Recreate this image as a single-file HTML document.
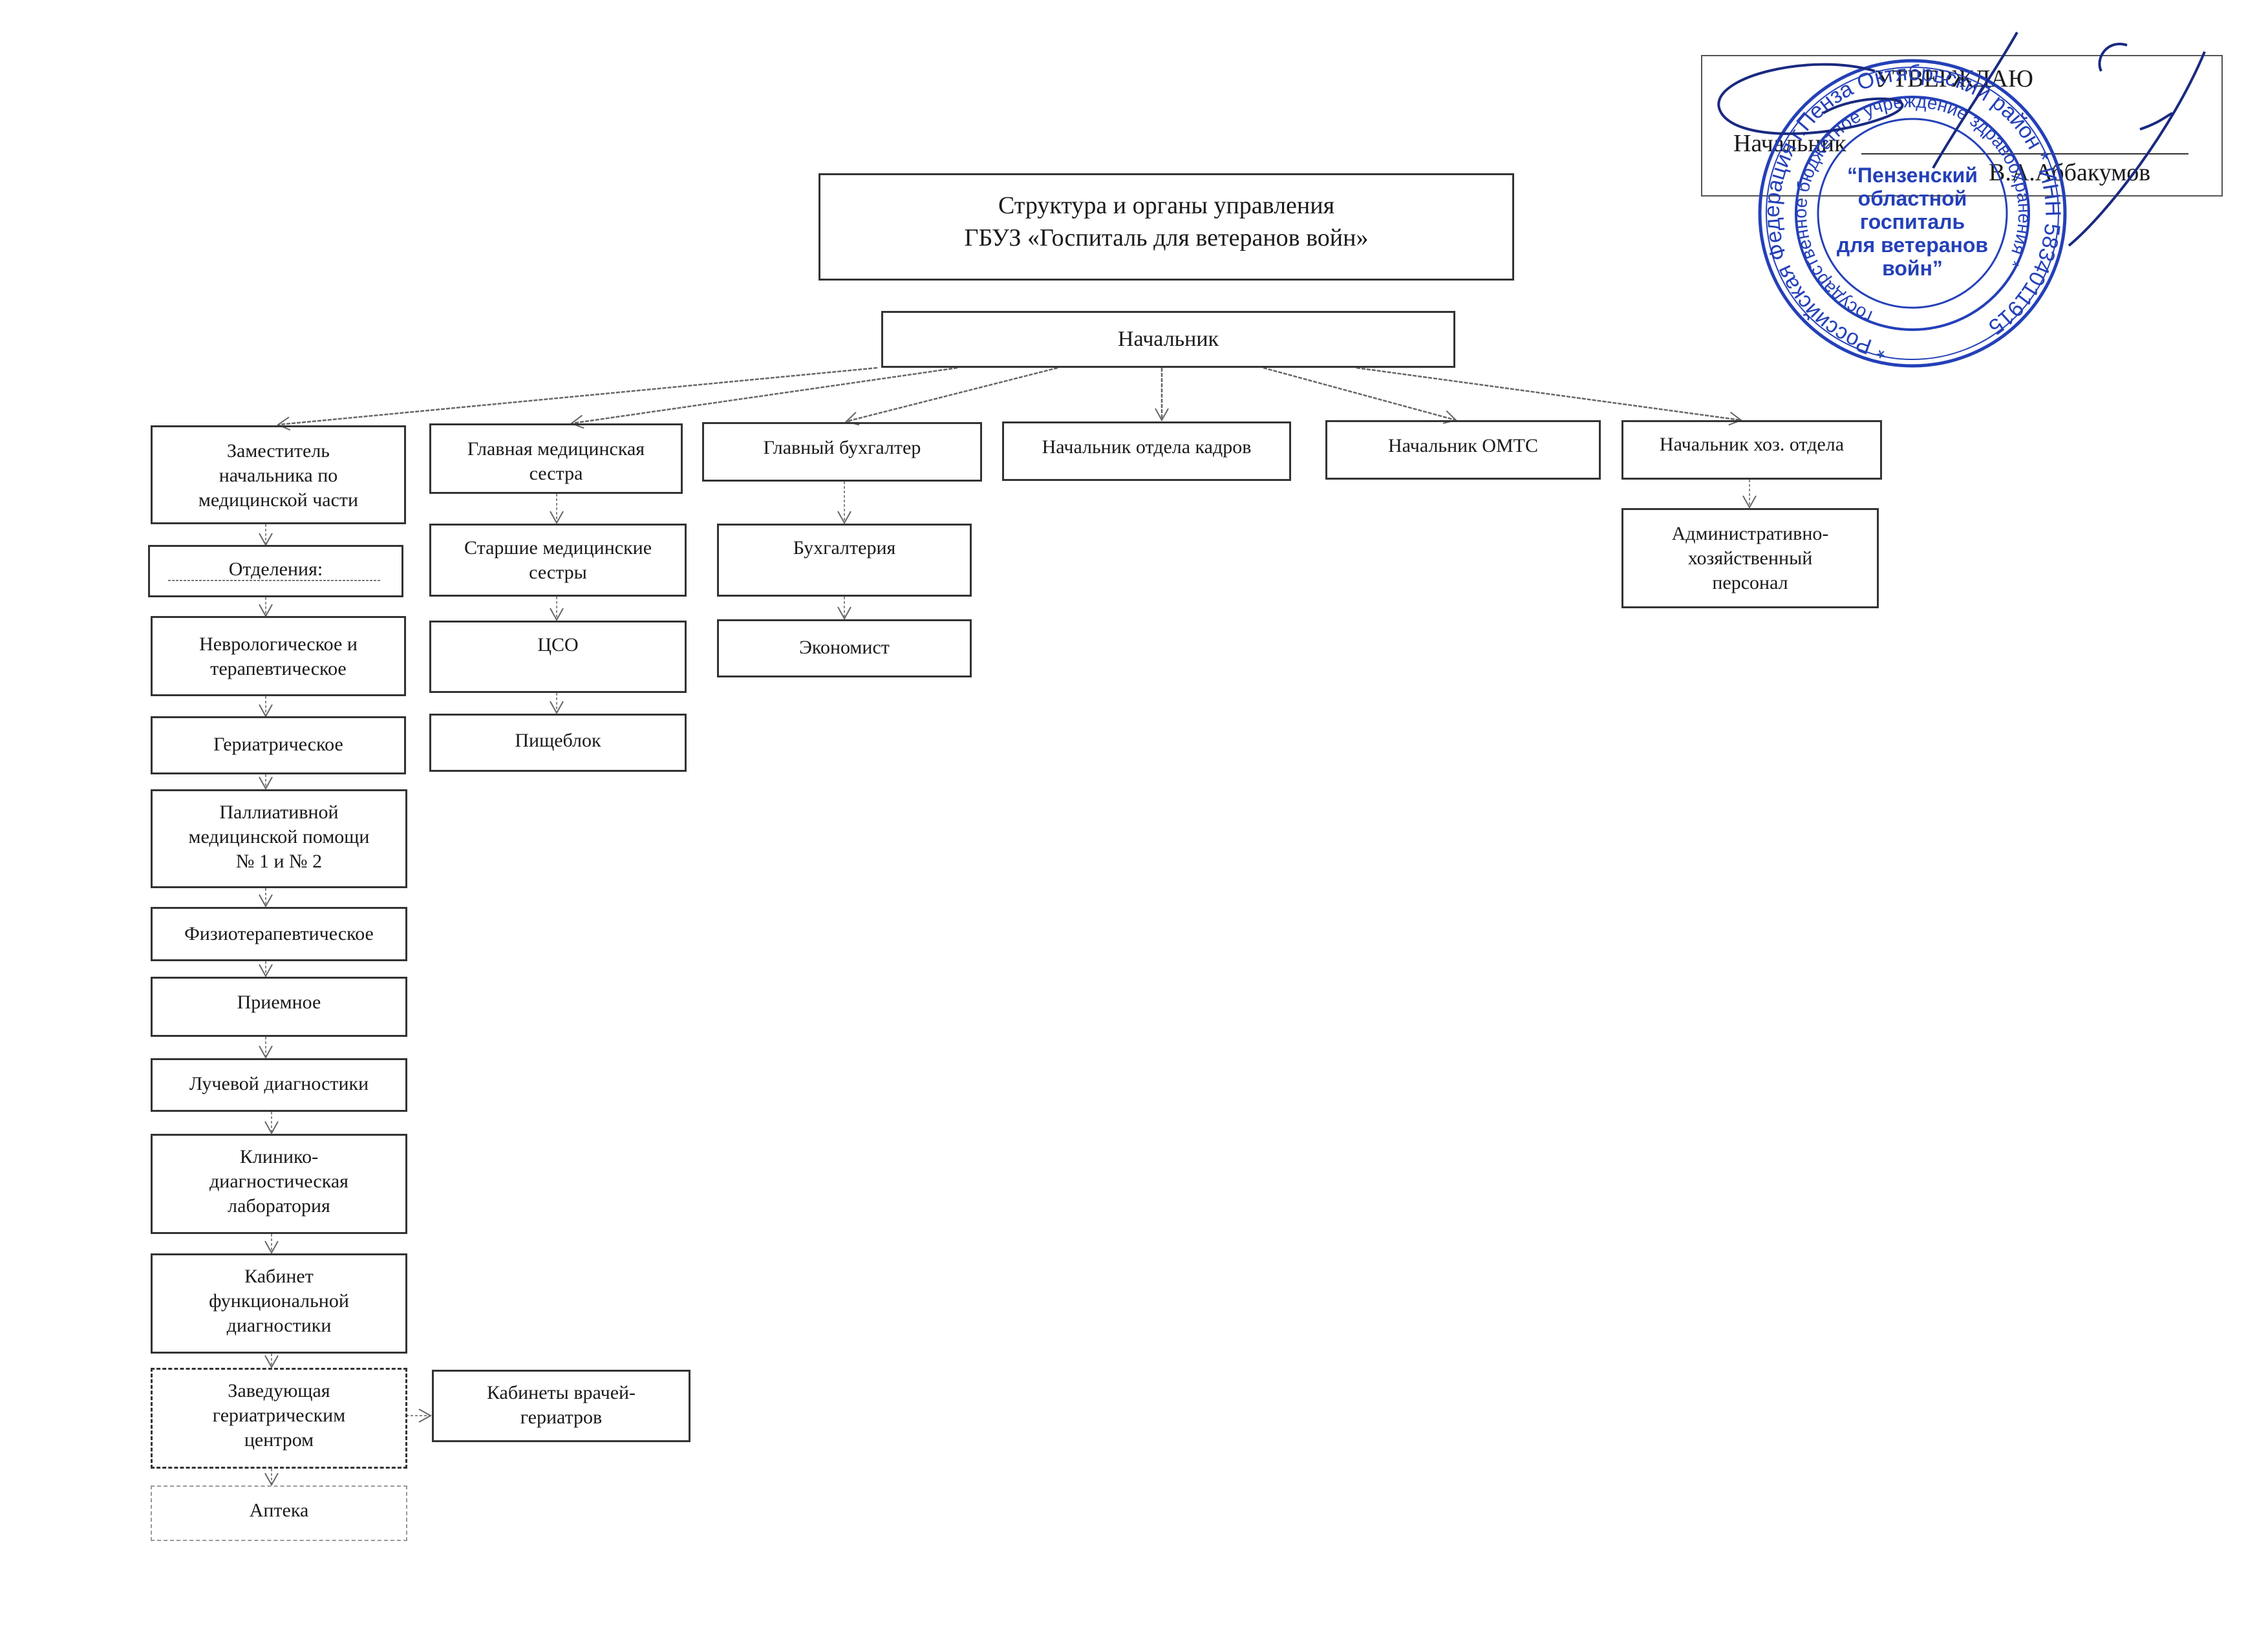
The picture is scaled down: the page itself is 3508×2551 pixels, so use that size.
<!DOCTYPE html>
<html><head><meta charset="utf-8"><style>
html,body{margin:0;padding:0;background:#fff}
body{width:3508px;height:2551px;position:relative;overflow:hidden;font-family:"Liberation Serif",serif;color:#1a1a1a}
.b{position:absolute;border:3px solid #333;box-sizing:border-box;text-align:center;font-size:30px;line-height:38px;padding-top:16px}
.t{position:absolute;white-space:nowrap}
</style></head><body>
<svg width="3508" height="2551" style="position:absolute;left:0;top:0" xmlns="http://www.w3.org/2000/svg">
<defs><marker id="a" markerWidth="24" markerHeight="24" refX="20" refY="12" orient="auto" markerUnits="userSpaceOnUse"><path d="M2,2 L20,12 L2,22" fill="none" stroke="#666" stroke-width="2"/></marker></defs>
<g stroke="#666" stroke-width="2.5" stroke-dasharray="6,2" fill="none" marker-end="url(#a)">
<line x1="1357" y1="569" x2="430" y2="657"/>
<line x1="1481" y1="569" x2="884" y2="655"/>
<line x1="1636" y1="569" x2="1309" y2="652"/>
<line x1="1797" y1="569" x2="1797" y2="650"/>
<line x1="1954" y1="569" x2="2252" y2="650"/>
<line x1="2098" y1="569" x2="2693" y2="650"/>
</g>
<g stroke="#888" stroke-width="2" stroke-dasharray="4,3" fill="none" marker-end="url(#a)">
<line x1="411" y1="811" x2="411" y2="843"/>
<line x1="411" y1="924" x2="411" y2="953"/>
<line x1="411" y1="1077" x2="411" y2="1108"/>
<line x1="411" y1="1198" x2="411" y2="1220"/>
<line x1="411" y1="1374" x2="411" y2="1402"/>
<line x1="411" y1="1487" x2="411" y2="1510"/>
<line x1="411" y1="1604" x2="411" y2="1636"/>
<line x1="420" y1="1720" x2="420" y2="1753"/>
<line x1="420" y1="1909" x2="420" y2="1938"/>
<line x1="420" y1="2094" x2="420" y2="2115"/>
<line x1="420" y1="2272" x2="420" y2="2297"/>
<line x1="628" y1="2190" x2="666" y2="2190"/>
<line x1="861" y1="764" x2="861" y2="809"/>
<line x1="861" y1="923" x2="861" y2="959"/>
<line x1="861" y1="1072" x2="861" y2="1103"/>
<line x1="1306" y1="745" x2="1306" y2="809"/>
<line x1="1306" y1="923" x2="1306" y2="957"/>
<line x1="2706" y1="742" x2="2706" y2="785"/>
</g>
<line x1="260" y1="898" x2="590" y2="898" stroke="#777" stroke-width="2" stroke-dasharray="4,2"/>
<line x1="2879" y1="238" x2="3385" y2="238" stroke="#333" stroke-width="2"/>
</svg>

<div class="b" style="left:1266px;top:268px;width:1076px;height:166px;font-size:38px;line-height:50px;padding-top:22px">Структура и органы управления<br>ГБУЗ «Госпиталь для ветеранов войн»</div>
<div class="b" style="left:1363px;top:481px;width:888px;height:88px;font-size:34px;padding-top:22px">Начальник</div>

<div class="b" style="left:233px;top:658px;width:395px;height:153px;padding-top:18px">Заместитель<br>начальника по<br>медицинской части</div>
<div class="b" style="left:664px;top:655px;width:392px;height:109px;padding-top:18px">Главная медицинская<br>сестра</div>
<div class="b" style="left:1086px;top:653px;width:433px;height:92px;padding-top:18px">Главный бухгалтер</div>
<div class="b" style="left:1550px;top:652px;width:447px;height:92px;padding-top:18px">Начальник отдела кадров</div>
<div class="b" style="left:2050px;top:650px;width:426px;height:92px;padding-top:18px">Начальник ОМТС</div>
<div class="b" style="left:2508px;top:650px;width:403px;height:92px;padding-top:16px">Начальник хоз. отдела</div>
<div class="b" style="left:2508px;top:786px;width:398px;height:155px;padding-top:18px">Административно-<br>хозяйственный<br>персонал</div>

<div class="b" style="left:229px;top:843px;width:395px;height:81px;padding-top:16px">Отделения:</div>
<div class="b" style="left:233px;top:953px;width:395px;height:124px;padding-top:22px">Неврологическое и<br>терапевтическое</div>
<div class="b" style="left:233px;top:1108px;width:395px;height:90px;padding-top:22px">Гериатрическое</div>
<div class="b" style="left:233px;top:1221px;width:397px;height:153px;padding-top:14px">Паллиативной<br>медицинской помощи<br>№ 1 и № 2</div>
<div class="b" style="left:233px;top:1403px;width:397px;height:84px;padding-top:20px">Физиотерапевтическое</div>
<div class="b" style="left:233px;top:1511px;width:397px;height:93px;padding-top:18px">Приемное</div>
<div class="b" style="left:233px;top:1637px;width:397px;height:83px;padding-top:18px">Лучевой диагностики</div>
<div class="b" style="left:233px;top:1754px;width:397px;height:155px;padding-top:14px">Клинико-<br>диагностическая<br>лаборатория</div>
<div class="b" style="left:233px;top:1939px;width:397px;height:155px;padding-top:14px">Кабинет<br>функциональной<br>диагностики</div>
<div class="b" style="left:233px;top:2116px;width:397px;height:156px;padding-top:14px;border-style:dashed">Заведующая<br>гериатрическим<br>центром</div>
<div class="b" style="left:233px;top:2298px;width:397px;height:86px;padding-top:18px;border:2px dashed #999">Аптека</div>
<div class="b" style="left:668px;top:2119px;width:400px;height:112px;padding-top:14px">Кабинеты врачей-<br>гериатров</div>

<div class="b" style="left:664px;top:810px;width:398px;height:113px;padding-top:16px">Старшие медицинские<br>сестры</div>
<div class="b" style="left:664px;top:960px;width:398px;height:112px;padding-top:16px">ЦСО</div>
<div class="b" style="left:664px;top:1104px;width:398px;height:90px;padding-top:20px">Пищеблок</div>
<div class="b" style="left:1109px;top:810px;width:394px;height:113px;padding-top:16px">Бухгалтерия</div>
<div class="b" style="left:1109px;top:958px;width:394px;height:90px;padding-top:22px">Экономист</div>

<div class="b" style="left:2631px;top:85px;width:807px;height:219px;border:2px solid #555"></div>
<div class="t" style="left:2900px;top:100px;font-size:38px">УТВЕРЖДАЮ</div>
<div class="t" style="left:2681px;top:200px;font-size:38px">Начальник</div>
<div class="t" style="left:3076px;top:245px;font-size:38px">В.А.Аббакумов</div>

<svg width="3508" height="2551" style="position:absolute;left:0;top:0" xmlns="http://www.w3.org/2000/svg">
<g fill="none" stroke="#2440b8">
<circle cx="2958" cy="330" r="236" stroke-width="5"/>
<circle cx="2958" cy="330" r="226" stroke-width="2"/>
<circle cx="2958" cy="330" r="180" stroke-width="4"/>
<circle cx="2958" cy="330" r="146" stroke-width="3"/>
</g>
<defs>
<path id="r1" d="M2958,536 a206,206 0 1,1 0.1,0"/>
<path id="r2" d="M2958,494 a164,164 0 1,1 0.1,0"/>
</defs>
<text font-family="Liberation Sans, sans-serif" font-size="34" fill="#2440b8"><textPath href="#r1" startOffset="3%">* Российская Федерация г.Пенза Октябрьский район * ИНН 5834011915</textPath></text>
<text font-family="Liberation Sans, sans-serif" font-size="28" fill="#2440b8"><textPath href="#r2" startOffset="6%">государственное бюджетное учреждение здравоохранения *</textPath></text>
<g font-family="Liberation Sans, sans-serif" font-size="32" font-weight="bold" fill="#2440b8" text-anchor="middle">
<text x="2958" y="282">“Пензенский</text>
<text x="2958" y="318">областной</text>
<text x="2958" y="354">госпиталь</text>
<text x="2958" y="390">для ветеранов</text>
<text x="2958" y="426">войн”</text>
</g>
<g fill="none" stroke="#1a2a80" stroke-width="4">
<path d="M2900,110 C2800,80 2640,120 2660,170 C2680,220 2830,215 2920,180 C2990,150 2880,140 2820,175"/>
<path d="M3120,50 C3080,120 3030,190 2990,260"/>
<path d="M3290,70 C3260,60 3240,90 3250,110"/>
<path d="M3410,80 C3360,200 3260,330 3200,380"/>
<path d="M3310,200 C3340,190 3350,180 3360,175"/>
</g>
</svg>
</body></html>
